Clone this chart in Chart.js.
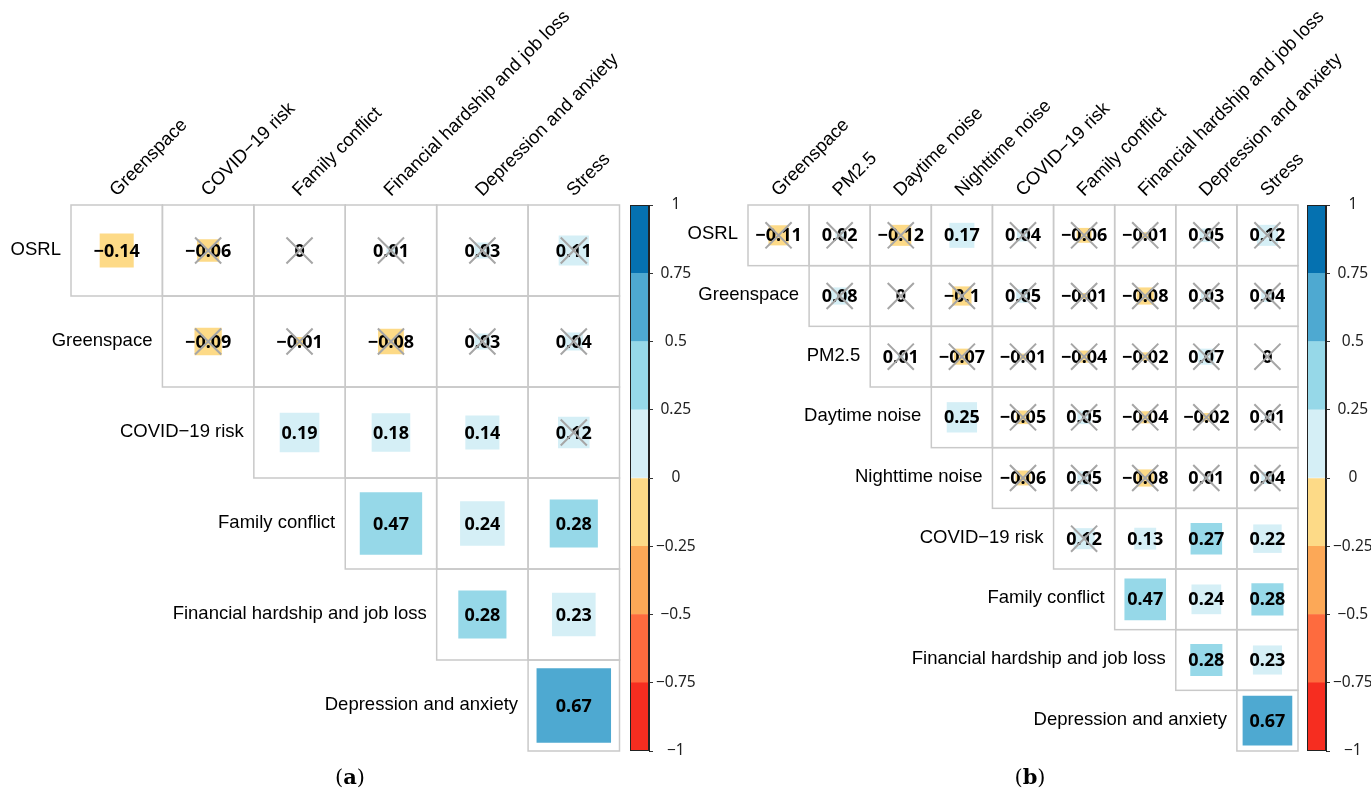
<!DOCTYPE html>
<html>
<head>
<meta charset="utf-8">
<script src="https://cdn.jsdelivr.net/npm/chart.js@4.4.1/dist/chart.umd.min.js"></script>
<style>
  body { margin: 0; background: #fff; width: 1371px; height: 791px; position: relative; overflow: hidden; }
  canvas { position: absolute; top: 0; }
  .cap { position: absolute; top: 763px; width: 60px; text-align: center; font-family: "DejaVu Serif", serif; font-size: 21px; line-height: 28px; color: #000; }
</style>
</head>
<body>
<canvas id="matA" width="640" height="791" style="left:0"></canvas>
<canvas id="barA" width="80" height="791" style="left:620px"></canvas>
<canvas id="matB" width="691" height="791" style="left:680px"></canvas>
<canvas id="barB" width="74" height="791" style="left:1297px"></canvas>
<div class="cap" style="left:320px">(<b>a</b>)</div>
<div class="cap" style="left:1000px">(<b>b</b>)</div>
<script>
// panel (a)
const rowsA = ['OSRL', 'Greenspace', 'COVID−19 risk', 'Family conflict', 'Financial hardship and job loss', 'Depression and anxiety'];
const colsA = ['Greenspace', 'COVID−19 risk', 'Family conflict', 'Financial hardship and job loss', 'Depression and anxiety', 'Stress'];
// each row starts at the diagonal
const corrA = [
  [-0.14, -0.06, 0, 0.01, 0.03, 0.11],
  [-0.09, -0.01, -0.08, 0.03, 0.04],
  [0.19, 0.18, 0.14, 0.12],
  [0.47, 0.24, 0.28],
  [0.28, 0.23],
  [0.67]
];
// 1 = not significant (crossed out)
const crossA = [
  [0, 1, 1, 1, 1, 1],
  [1, 1, 1, 1, 1],
  [0, 0, 0, 1],
  [0, 0, 0],
  [0, 0],
  [0]
];

// panel (b)
const rowsB = ['OSRL', 'Greenspace', 'PM2.5', 'Daytime noise', 'Nighttime noise', 'COVID−19 risk', 'Family conflict', 'Financial hardship and job loss', 'Depression and anxiety'];
const colsB = ['Greenspace', 'PM2.5', 'Daytime noise', 'Nighttime noise', 'COVID−19 risk', 'Family conflict', 'Financial hardship and job loss', 'Depression and anxiety', 'Stress'];
const corrB = [
  [-0.11, 0.02, -0.12, 0.17, 0.04, -0.06, -0.01, 0.05, 0.12],
  [0.08, 0, -0.1, 0.05, -0.01, -0.08, 0.03, 0.04],
  [0.01, -0.07, -0.01, -0.04, -0.02, 0.07, 0],
  [0.25, -0.05, 0.05, -0.04, -0.02, 0.01],
  [-0.06, 0.05, -0.08, 0.01, 0.04],
  [0.12, 0.13, 0.27, 0.22],
  [0.47, 0.24, 0.28],
  [0.28, 0.23],
  [0.67]
];
const crossB = [
  [1, 1, 1, 0, 1, 1, 1, 1, 1],
  [1, 1, 1, 1, 1, 1, 1, 1],
  [1, 1, 1, 1, 1, 1, 1],
  [0, 1, 1, 1, 1, 1],
  [1, 1, 1, 1, 1],
  [1, 0, 0, 0],
  [0, 0, 0],
  [0, 0],
  [0]
];

// colour legend
const legendTicks = [-1, -0.75, -0.5, -0.25, 0, 0.25, 0.5, 0.75, 1];
const legendColors = ['#F62D20', '#FE6B3E', '#FCA857', '#FDDA87', '#D5EFF6', '#96D8E8', '#4EA9D1', '#0571B0'];

const fmt = v => (v < 0 ? '−' + Math.abs(v) : String(v));

function colorFor(v) {
  for (let k = 0; k < legendColors.length; k++) {
    if (v > legendTicks[k] && v <= legendTicks[k + 1]) return legendColors[k];
  }
  return 'rgba(0,0,0,0)';
}

function cellSize(chart) {
  const xs = chart.scales.x, ys = chart.scales.y;
  return Math.min(xs.getPixelForValue(1) - xs.getPixelForValue(0), ys.getPixelForValue(1) - ys.getPixelForValue(0));
}

function matrixChart(id, rows, cols, corr, cross, pad) {
  const n = cols.length;
  const squares = [], marks = [];
  corr.forEach((row, i) => row.forEach((v, k) => {
    squares.push({ x: i + k + 0.5, y: i + 0.5, v: v });
    if (cross[i][k]) marks.push({ x: i + k + 0.5, y: i + 0.5 });
  }));

  const labels = {
    id: 'corrLabels',
    beforeDatasetsDraw(chart) {
      const { ctx, scales: { x: xs, y: ys } } = chart;
      ctx.save();
      ctx.strokeStyle = '#C9C9C9';
      ctx.lineWidth = 1.5;
      corr.forEach((row, i) => row.forEach((v, k) => {
        const x0 = xs.getPixelForValue(i + k), x1 = xs.getPixelForValue(i + k + 1);
        const y0 = ys.getPixelForValue(i), y1 = ys.getPixelForValue(i + 1);
        ctx.strokeRect(x0, y0, x1 - x0, y1 - y0);
      }));
      ctx.restore();
    },
    beforeDatasetDraw(chart, args) {
      // numbers go above the squares but under the crosses
      if (args.index !== 0) return;
      const { ctx, scales: { x: xs, y: ys } } = chart;
      ctx.save();
      ctx.font = 'bold 18px "Noto Sans"';
      ctx.fillStyle = '#000';
      ctx.textAlign = 'center';
      ctx.textBaseline = 'middle';
      squares.forEach(p => ctx.fillText(fmt(p.v), xs.getPixelForValue(p.x), ys.getPixelForValue(p.y) + 1));
      ctx.restore();
    },
    afterDraw(chart) {
      const { ctx, chartArea, scales: { x: xs, y: ys } } = chart;
      ctx.save();
      ctx.font = '18.5px "Liberation Sans"';
      ctx.fillStyle = '#000';
      ctx.textAlign = 'right';
      ctx.textBaseline = 'middle';
      rows.forEach((r, i) => ctx.fillText(r, xs.getPixelForValue(i) - 10, ys.getPixelForValue(i + 0.5) - 1));
      ctx.textAlign = 'left';
      ctx.textBaseline = 'alphabetic';
      cols.forEach((c, j) => {
        ctx.save();
        ctx.translate(xs.getPixelForValue(j + 0.5), chartArea.top - 8);
        ctx.rotate(-Math.PI / 4);
        ctx.fillText(c, 0, 0);
        ctx.restore();
      });
      ctx.restore();
    }
  };

  return new Chart(document.getElementById(id), {
    type: 'scatter',
    data: {
      datasets: [
        {
          data: marks,
          pointStyle: 'crossRot',
          pointRadius: 18.5,
          pointBorderColor: '#A6A6A6',
          pointBorderWidth: 2,
          pointBackgroundColor: 'rgba(0,0,0,0)'
        },
        {
          data: squares,
          pointStyle: 'rect',
          pointRadius: ctx => ctx.raw ? Math.sqrt(Math.abs(ctx.raw.v)) * cellSize(ctx.chart) / Math.SQRT2 : 0,
          pointBackgroundColor: ctx => ctx.raw ? colorFor(ctx.raw.v) : 'rgba(0,0,0,0)',
          pointBorderWidth: 0
        }
      ]
    },
    options: {
      responsive: false,
      animation: false,
      events: [],
      layout: { padding: pad },
      plugins: { legend: { display: false }, tooltip: { enabled: false } },
      scales: {
        x: { type: 'linear', min: 0, max: n, display: false },
        y: { type: 'linear', min: 0, max: n, reverse: true, display: false }
      }
    },
    plugins: [labels]
  });
}

const outline = {
  id: 'outline',
  afterDatasetsDraw(chart) {
    const { ctx, chartArea: a } = chart;
    ctx.save();
    ctx.strokeStyle = '#222';
    ctx.lineWidth = 1;
    ctx.strokeRect(a.left + 0.5, a.top + 0.5, a.width - 1, a.height - 1);
    ctx.restore();
  }
};

function legendBar(id, axisWidth) {
  return new Chart(document.getElementById(id), {
    type: 'bar',
    data: {
      labels: [''],
      datasets: legendColors.map((c, k) => ({
        data: [[legendTicks[k], legendTicks[k + 1]]],
        backgroundColor: c,
        borderWidth: 0
      }))
    },
    options: {
      responsive: false,
      animation: false,
      events: [],
      layout: { padding: { left: 10, right: 0, top: 205, bottom: 40 } },
      datasets: { bar: { grouped: false, barPercentage: 1, categoryPercentage: 1 } },
      plugins: { legend: { display: false }, tooltip: { enabled: false } },
      scales: {
        x: { display: false },
        y: {
          position: 'right',
          min: -1,
          max: 1,
          afterBuildTicks: s => { s.ticks = legendTicks.map(v => ({ value: v })); },
          afterFit: s => { s.width = axisWidth; },
          grid: { drawOnChartArea: false, tickLength: 4, color: '#333' },
          border: { color: '#222', width: 1 },
          ticks: {
            padding: 3,
            crossAlign: 'center',
            color: '#222',
            font: { family: 'Noto Sans', size: 15.5 },
            callback: v => fmt(v)
          }
        }
      }
    },
    plugins: [outline]
  });
}

matrixChart('matA', rowsA, colsA, corrA, crossA, { left: 71, right: 19, top: 205, bottom: 40 });
matrixChart('matB', rowsB, colsB, corrB, crossB, { left: 68, right: 73, top: 205, bottom: 40 });
legendBar('barA', 51);
legendBar('barB', 45);
</script>
</body>
</html>
